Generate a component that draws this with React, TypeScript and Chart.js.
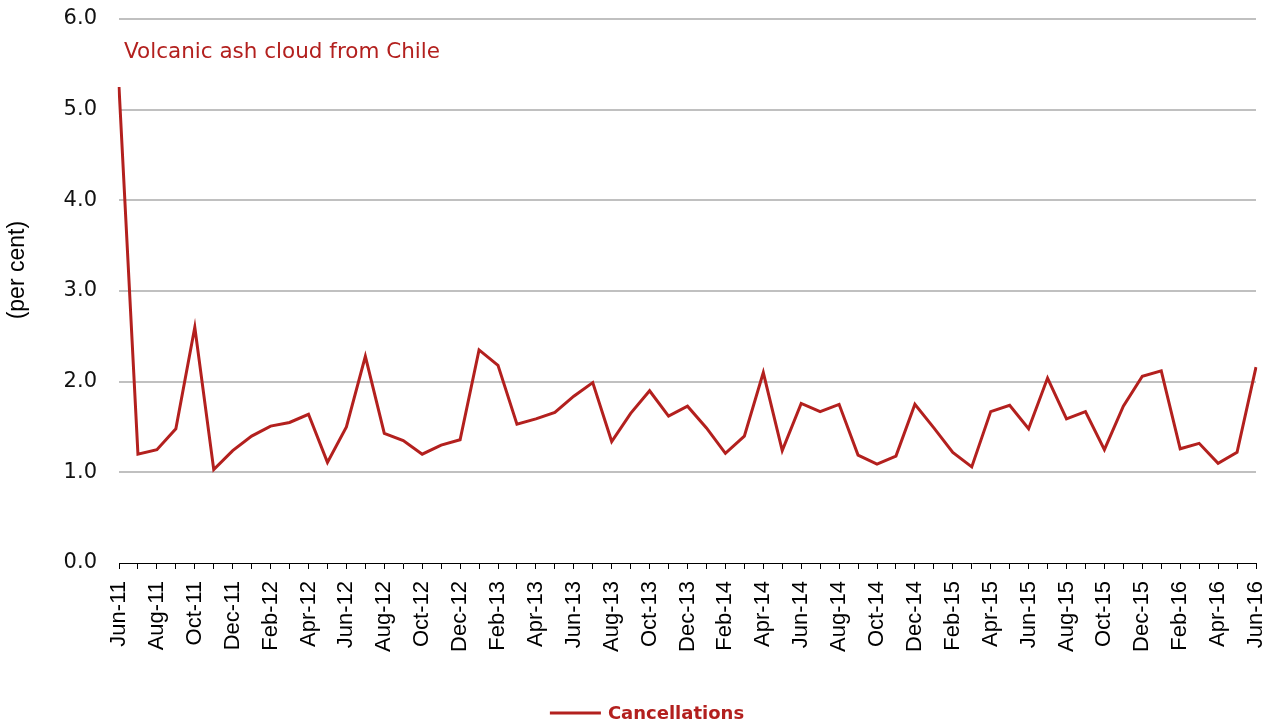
import React, { useEffect, useRef } from "react";
import { Chart, registerables } from "chart.js";

Chart.register(...registerables);

const months: string[] = [
  "Jun-11", "Jul-11", "Aug-11", "Sep-11", "Oct-11", "Nov-11", "Dec-11",
  "Jan-12", "Feb-12", "Mar-12", "Apr-12", "May-12", "Jun-12", "Jul-12", "Aug-12", "Sep-12", "Oct-12", "Nov-12", "Dec-12",
  "Jan-13", "Feb-13", "Mar-13", "Apr-13", "May-13", "Jun-13", "Jul-13", "Aug-13", "Sep-13", "Oct-13", "Nov-13", "Dec-13",
  "Jan-14", "Feb-14", "Mar-14", "Apr-14", "May-14", "Jun-14", "Jul-14", "Aug-14", "Sep-14", "Oct-14", "Nov-14", "Dec-14",
  "Jan-15", "Feb-15", "Mar-15", "Apr-15", "May-15", "Jun-15", "Jul-15", "Aug-15", "Sep-15", "Oct-15", "Nov-15", "Dec-15",
  "Jan-16", "Feb-16", "Mar-16", "Apr-16", "May-16", "Jun-16",
];

const cancellations: number[] = [
  5.25, 1.20, 1.25, 1.48, 2.60, 1.03, 1.24,
  1.40, 1.51, 1.55, 1.64, 1.11, 1.50, 2.28, 1.43, 1.35, 1.20, 1.30, 1.36,
  2.35, 2.18, 1.53, 1.59, 1.66, 1.84, 1.99, 1.34, 1.65, 1.90, 1.62, 1.73,
  1.49, 1.21, 1.40, 2.10, 1.24, 1.76, 1.67, 1.75, 1.19, 1.09, 1.18, 1.75,
  1.49, 1.22, 1.06, 1.67, 1.74, 1.48, 2.04, 1.59, 1.67, 1.25, 1.73, 2.06,
  2.12, 1.26, 1.32, 1.10, 1.22, 2.16,
];

const yMin = 0;
const yMax = 6;
const yStep = 1;
const seriesName = "Cancellations";
const yTitle = "(per cent)";
const annotationText = "Volcanic ash cloud from Chile";
const annotationValue = 5.63;
const yTitleCenterValue = 3.23;

const RED = "#B3201E";

const overlayPlugin = {
  id: "overlay",
  afterDraw(chart: any) {
    const { ctx, chartArea, scales } = chart;
    ctx.save();
    // y-axis title
    ctx.save();
    ctx.translate(18, scales.y.getPixelForValue(yTitleCenterValue));
    ctx.rotate(-Math.PI / 2);
    ctx.fillStyle = "#000000";
    ctx.font = "23px 'Liberation Sans', Arial, sans-serif";
    ctx.textAlign = "center";
    ctx.textBaseline = "middle";
    ctx.fillText(yTitle, 0, 0);
    ctx.restore();

    // annotation
    ctx.fillStyle = RED;
    ctx.font = "21.5px 'DejaVu Sans'";
    ctx.textAlign = "left";
    ctx.textBaseline = "middle";
    ctx.fillText(annotationText, chartArea.left + 5, scales.y.getPixelForValue(annotationValue));

    // legend
    ctx.font = "bold 18px 'DejaVu Sans'";
    const textW = ctx.measureText(seriesName).width;
    const lineW = 51;
    const gap = 7;
    const total = lineW + gap + textW;
    const cx = 647;
    const x0 = cx - total / 2;
    const ly = 713;
    ctx.strokeStyle = RED;
    ctx.lineWidth = 3;
    ctx.beginPath();
    ctx.moveTo(x0, ly);
    ctx.lineTo(x0 + lineW, ly);
    ctx.stroke();
    ctx.fillStyle = RED;
    ctx.textBaseline = "middle";
    ctx.fillText(seriesName, x0 + lineW + gap, ly + 1);
    ctx.restore();
  },
};

export default function App() {
  const canvasRef = useRef<HTMLCanvasElement | null>(null);

  useEffect(() => {
    if (!canvasRef.current) return;
    const chart = new Chart(canvasRef.current, {
      type: "line",
      data: {
        labels: months,
        datasets: [
          {
            label: seriesName,
            data: cancellations,
            borderColor: RED,
            backgroundColor: RED,
            borderWidth: 3,
            pointRadius: 0,
            tension: 0,
            fill: false,
          },
        ],
      },
      options: {
        animation: false,
        responsive: true,
        maintainAspectRatio: false,
        layout: { padding: { top: 19, right: 18, left: 0, bottom: 0 } },
        plugins: {
          legend: { display: false },
          tooltip: { enabled: false },
        },
        scales: {
          x: {
            type: "category",
            offset: false,
            afterFit: (s: any) => {
              s.height = 161;
              s.paddingLeft = 0;
              s.paddingRight = 0;
            },
            grid: {
              display: true,
              drawOnChartArea: false,
              drawTicks: true,
              tickLength: 6,
              color: "#000000",
              lineWidth: 1,
            },
            border: { display: true, color: "#000000", width: 1 },
            ticks: {
              autoSkip: false,
              maxRotation: 90,
              minRotation: 90,
              padding: 12,
              color: "#000000",
              font: { family: "'Liberation Sans', Arial, sans-serif", size: 22 },
              callback: (_v: any, i: number) => (i % 2 === 0 ? months[i] : ""),
            },
          },
          y: {
            min: yMin,
            max: yMax,
            afterFit: (s: any) => {
              s.width = 119;
              s.paddingTop = 0;
              s.paddingBottom = 0;
            },
            border: { display: false },
            grid: {
              drawTicks: false,
              lineWidth: 2,
              color: (c: any) => (c.tick && c.tick.value === 0 ? "rgba(0,0,0,0)" : "#C0C0C0"),
            },
            ticks: {
              stepSize: yStep,
              padding: 22,
              color: "#111111",
              font: { family: "'DejaVu Sans', Verdana, sans-serif", size: 21 },
              callback: (v: any) => Number(v).toFixed(1),
            },
            title: { display: false },
          },
        },
      },
      plugins: [overlayPlugin],
    });
    return () => chart.destroy();
  }, []);

  return (
    <div style={{ position: "fixed", left: 0, top: 0, width: 1274, height: 724, background: "#fff" }}>
      <canvas ref={canvasRef} />
    </div>
  );
}
